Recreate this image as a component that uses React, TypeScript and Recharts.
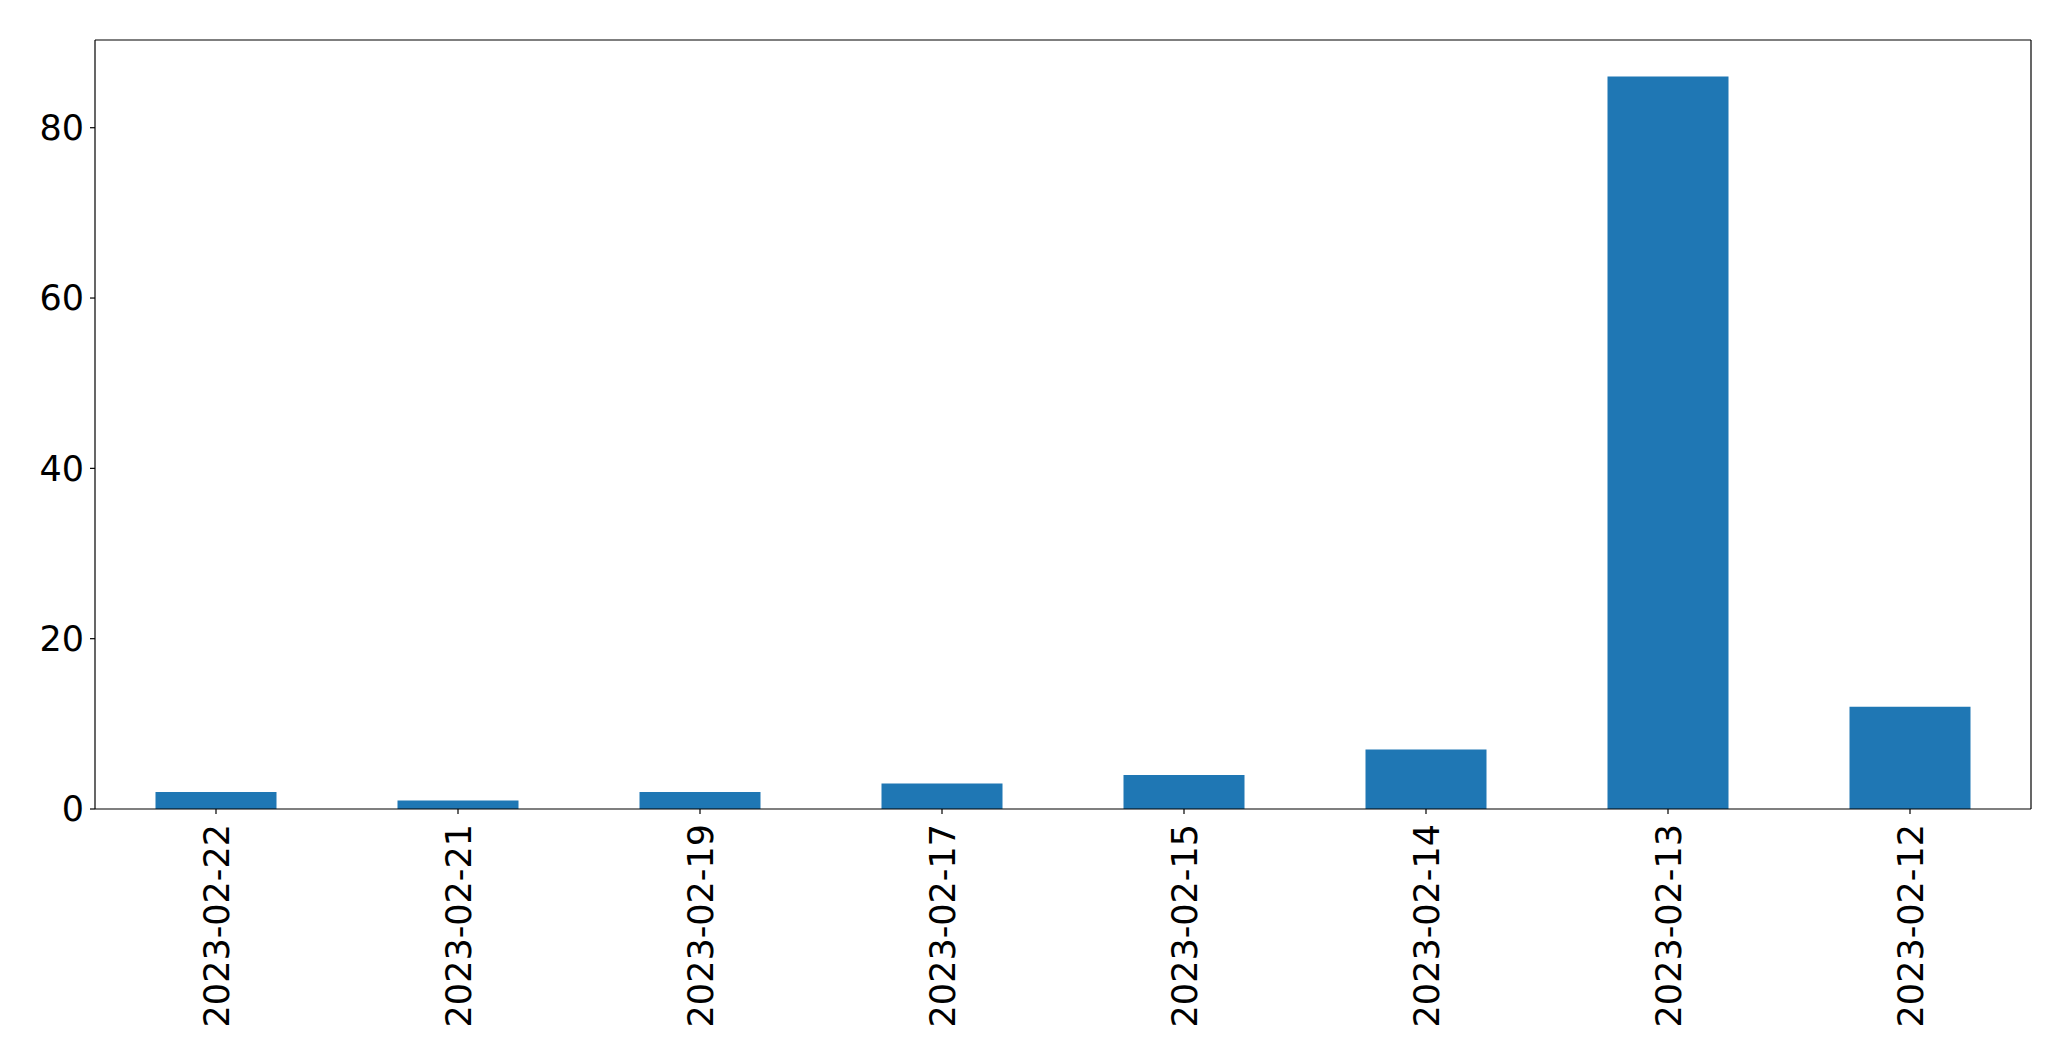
import React from 'react';
import { BarChart, Bar, XAxis, YAxis } from 'recharts';

const dates = [
  '2023-02-22',
  '2023-02-21',
  '2023-02-19',
  '2023-02-17',
  '2023-02-15',
  '2023-02-14',
  '2023-02-13',
  '2023-02-12',
];
const counts = [2, 1, 2, 3, 4, 7, 86, 12];
const yTicks = [0, 20, 40, 60, 80];

const data = dates.map((date, i) => ({ date, count: counts[i] }));

const FONT = '"DejaVu Sans", sans-serif';
const FONT_SIZE = 35;

function DateTick(props: any) {
  const { x, y, payload } = props;
  return (
    <g transform={`translate(${x},${y}) rotate(-90)`}>
      <text
        x={0}
        y={0}
        dy="0.36em"
        textAnchor="end"
        fill="#000"
        fontFamily={FONT}
        fontSize={FONT_SIZE}
      >
        {payload.value}
      </text>
    </g>
  );
}

export default function App() {
  return (
    <div style={{ position: 'fixed', left: 0, top: 0, width: 2071, height: 1061, background: '#fff' }}>
      <BarChart
        width={2071}
        height={1061}
        data={data}
        margin={{ top: 39, right: 39, left: 0, bottom: 0 }}
        barCategoryGap="25%"
      >
        <XAxis
          dataKey="date"
          height={252}
          interval={0}
          stroke="#000"
          tick={<DateTick />}
          tickSize={5}
          tickMargin={10}
          axisLine={{ stroke: '#000', strokeWidth: 1.2 }}
          tickLine={{ stroke: '#000', strokeWidth: 1.2 }}
        />
        <XAxis
          xAxisId="top"
          dataKey="date"
          orientation="top"
          height={1}
          stroke="#000"
          tick={false}
          tickLine={false}
          axisLine={{ stroke: '#000', strokeWidth: 1.2 }}
        />
        <YAxis
          width={95}
          domain={[0, 90.3]}
          ticks={yTicks}
          stroke="#000"
          tickSize={5}
          tickMargin={6}
          tick={{ fill: '#000', fontFamily: FONT, fontSize: FONT_SIZE }}
          axisLine={{ stroke: '#000', strokeWidth: 1.2 }}
          tickLine={{ stroke: '#000', strokeWidth: 1.2 }}
        />
        <YAxis
          yAxisId="right"
          orientation="right"
          width={1}
          domain={[0, 90.3]}
          stroke="#000"
          tick={false}
          tickLine={false}
          axisLine={{ stroke: '#000', strokeWidth: 1.2 }}
        />
        <Bar dataKey="count" fill="#1f77b4" isAnimationActive={false} />
      </BarChart>
    </div>
  );
}
